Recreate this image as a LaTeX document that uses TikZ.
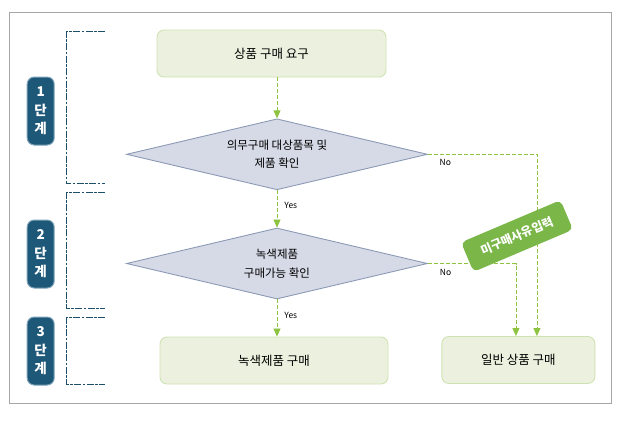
\documentclass[tikz,border=0pt]{standalone}
\usepackage{fontspec}
\setmainfont{Noto Sans CJK KR}
\usepackage{tikz}
\usetikzlibrary{positioning}
\usetikzlibrary{shapes.geometric,arrows.meta}
\definecolor{boxfill}{HTML}{EBF1DE}
\definecolor{boxline}{HTML}{CFE2B3}
\definecolor{dmdfill}{HTML}{D5DAE6}
\definecolor{dmdline}{HTML}{8D9AB5}
\definecolor{flowgreen}{HTML}{8DC340}
\definecolor{stagefill}{HTML}{1D5878}
\definecolor{stageline}{HTML}{7FA3B8}
\definecolor{bracketblue}{HTML}{1F4E6B}
\definecolor{tagfill}{HTML}{7AB648}
\definecolor{framegray}{HTML}{A6A6A6}
\tikzset{
  stepbox/.style = {rectangle, rounded corners=7pt, fill=boxfill,
    draw=boxline, line width=0.9pt, minimum height=47pt,
    font=\fontsize{12.5}{15}\selectfont},% box of one step
  decide/.style = {diamond, aspect=4.2, fill=dmdfill, draw=dmdline,
    line width=0.9pt, minimum width=301pt, minimum height=71pt,
    inner sep=0pt, align=center,
    font=\fontsize{11.5}{18.5}\selectfont},% yes / no check
  stage/.style = {rectangle, rounded corners=7pt, fill=stagefill,
    draw=stageline, line width=1pt, minimum width=27pt,
    minimum height=68pt, inner sep=0pt, text=white, align=center,
    font=\bfseries\fontsize{13.5}{18.5}\selectfont},% 단계 tab
  flow/.style = {draw=flowgreen, line width=0.8pt,
    dash pattern=on 4pt off 2pt},
  answer/.style = {inner sep=1pt, font=\fontsize{8.5}{9}\selectfont},
  bracket/.style = {draw=bracketblue, line width=0.9pt,
    dash pattern=on 7pt off 1.5pt on 2.5pt off 1.5pt},
  tag/.style = {rectangle, rounded corners=5pt, fill=tagfill,
    minimum width=108pt, minimum height=32pt, text=white,
    font=\bfseries\fontsize{12}{14}\selectfont}
}

\begin{document}
\begin{tikzpicture}[x=1pt,y=-1pt,>={Triangle[width=7pt,length=8pt]}]
\useasboundingbox (0,0) rectangle (623,423);
\draw[framegray, line width=1pt] (9.5,12.7) rectangle (611.7,403);

% 단계 tabs and brackets
\node [stage] (s1) at (40.7,111) {1\\단\\계};
\node [stage] (s2) at (40.7,254) {2\\단\\계};
\node [stage] (s3) at (40.7,351) {3\\단\\계};
\draw [bracket] (105,31.7) -- (66.7,31.7) -- (66.7,183.3) -- (105,183.3);
\draw [bracket] (105,192.7) -- (66.7,192.7) -- (66.7,308.3) -- (105,308.3);
\draw [bracket] (105,317.3) -- (66.7,317.3) -- (66.7,384) -- (105,384);

% flow
\node [stepbox, minimum width=229pt] (want) at (271.5,53.5) {상품 구매 요구};
\node [decide] (d1) at (277,154.3) {의무구매 대상품목 및\\제품 확인};
\node [decide] (d2) at (277,263.5) {녹색제품\\구매가능 확인};
\node [stepbox, minimum width=228pt] (green) at (274,360.5) {녹색제품 구매};
\node [stepbox, minimum width=153pt] (plain) at (518.4,360) {일반 상품 구매};

\draw [flow,->] (d1.north |- want.south) -- (d1.north);
\draw [flow,->] (d1.south) -- node[answer, pos=0.42, right=6pt] {Yes} (d2.north);
\draw [flow,->] (d2.south) -- node[answer, pos=0.44, right=6pt] {Yes} (d2.south |- green.north);
\draw [flow,->] (d1.east) -| node[answer, pos=0.08, below=4pt] {No}
  ([xshift=18.5pt]plain.north);
\draw [flow,->] (d2.east) -| node[answer, pos=0.1, below=4pt] {No}
  ([xshift=-2.5pt]plain.north);

\node [tag, rotate=23] (why) at (517,236) {미구매사유입력};
\end{tikzpicture}
\end{document}
